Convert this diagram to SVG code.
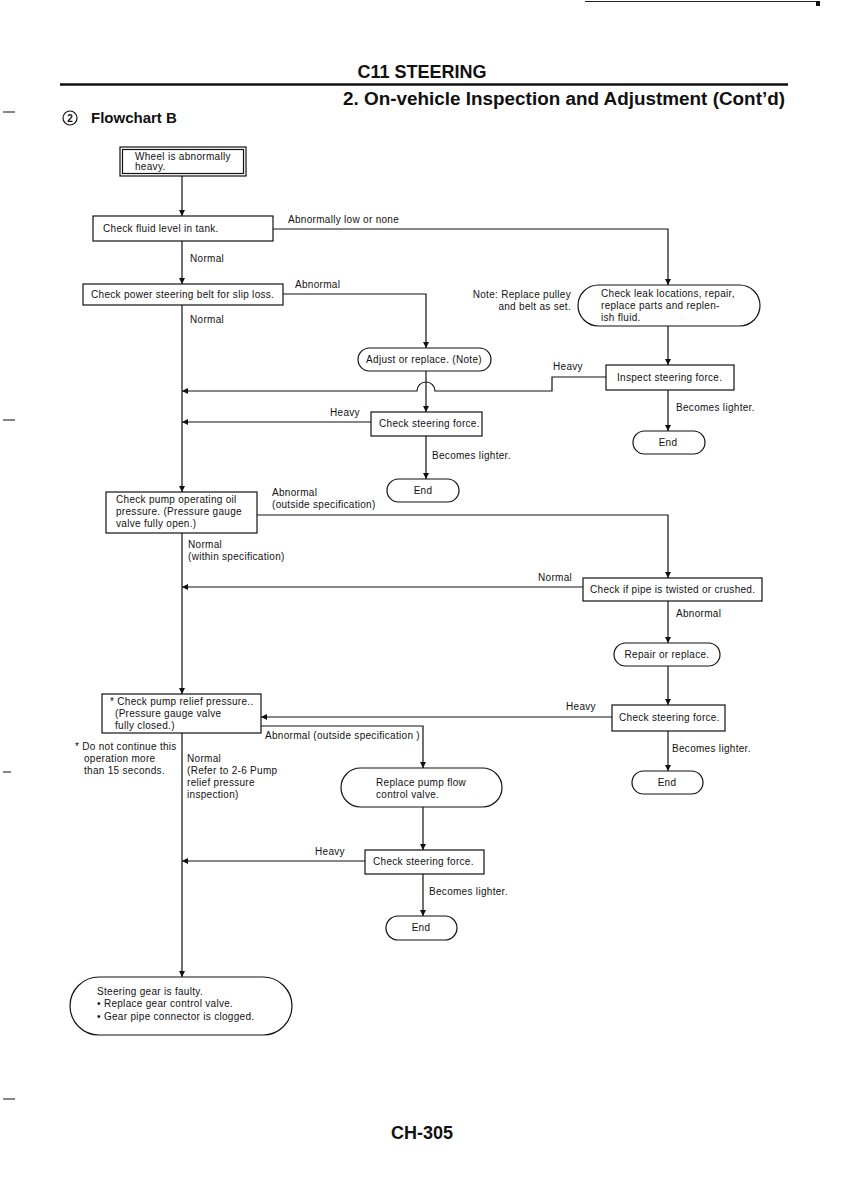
<svg xmlns="http://www.w3.org/2000/svg" width="848" height="1200" viewBox="0 0 848 1200">
<defs>
<marker id="arr" markerUnits="userSpaceOnUse" markerWidth="6" markerHeight="6" refX="6" refY="3" orient="auto">
<path d="M0,0 L6,3 L0,6 z" fill="#111"/>
</marker>
<style>
text{font-family:"Liberation Sans",Arial,sans-serif;fill:#111}
.t{font-size:10px;letter-spacing:0.3px}
.c{text-anchor:middle}
.r{text-anchor:end}
.box{fill:#fff;stroke:#111;stroke-width:1.2}
.ln{fill:none;stroke:#111;stroke-width:1.2}
.la{fill:none;stroke:#111;stroke-width:1.2;marker-end:url(#arr)}
.hd{font-weight:bold;letter-spacing:0}
</style>
</defs>
<rect width="848" height="1200" fill="#fff"/>
<g id="header">
<line x1="585" y1="1.5" x2="818" y2="1.5" stroke="#222" stroke-width="1"/>
<rect x="816" y="1" width="4" height="5" fill="#111"/>
<text x="422" y="78" class="hd c" font-size="18">C11 STEERING</text>
<line x1="60" y1="84.5" x2="788" y2="84.5" stroke="#111" stroke-width="2.5"/>
<text x="785" y="105" class="hd r" font-size="18" textLength="442" lengthAdjust="spacingAndGlyphs">2. On-vehicle Inspection and Adjustment (Cont’d)</text>
<circle cx="70" cy="118" r="7" fill="none" stroke="#111" stroke-width="1.2"/>
<text x="70" y="122" class="hd c" font-size="10">2</text>
<text x="91" y="123" class="hd" font-size="15">Flowchart B</text>
<text x="422" y="1139" class="hd c" font-size="18">CH-305</text>
<g stroke="#333" stroke-width="1.2">
<line x1="3" y1="112" x2="15" y2="112"/>
<line x1="3" y1="420" x2="15" y2="420"/>
<line x1="3" y1="772" x2="11" y2="772"/>
<line x1="3" y1="1099" x2="15" y2="1099"/>
</g>
</g>

<g id="connectors">
<line class="la" x1="182" y1="176" x2="182" y2="216"/>
<line class="la" x1="182" y1="241" x2="182" y2="284"/>
<line class="la" x1="182" y1="305" x2="182" y2="492"/>
<line class="la" x1="182" y1="533" x2="182" y2="694"/>
<line class="la" x1="182" y1="733" x2="182" y2="977"/>
<polyline class="la" points="273,229 668,229 668,285"/>
<polyline class="la" points="283,294 426,294 426,348"/>
<line class="la" x1="668" y1="326" x2="668" y2="365"/>
<path class="la" d="M606,377 L552,377 L552,391 L435,391 A9,9 0 0 0 417,391 L182,391"/>
<line class="la" x1="668" y1="390" x2="668" y2="431"/>
<line class="la" x1="426" y1="371" x2="426" y2="412"/>
<line class="la" x1="371" y1="422" x2="182" y2="422"/>
<line class="la" x1="426" y1="436" x2="426" y2="479"/>
<polyline class="la" points="257,515 668,515 668,578"/>
<line class="la" x1="583" y1="587" x2="182" y2="587"/>
<line class="la" x1="668" y1="601" x2="668" y2="643"/>
<line class="la" x1="668" y1="666" x2="668" y2="705"/>
<line class="la" x1="612" y1="717" x2="261" y2="717"/>
<line class="la" x1="668" y1="731" x2="668" y2="771"/>
<polyline class="la" points="261,726 423,726 423,768"/>
<line class="la" x1="423" y1="807" x2="423" y2="850"/>
<line class="la" x1="365" y1="861" x2="182" y2="861"/>
<line class="la" x1="423" y1="874" x2="423" y2="916"/>
</g>

<g id="labels" class="t">
<text x="288" y="223">Abnormally low or none</text>
<text x="190" y="262">Normal</text>
<text x="295" y="288">Abnormal</text>
<text x="190" y="323">Normal</text>
<text x="571" y="298" class="r">Note: Replace pulley</text>
<text x="571" y="310" class="r">and belt as set.</text>
<text x="553" y="370">Heavy</text>
<text x="676" y="411">Becomes lighter.</text>
<text x="330" y="416">Heavy</text>
<text x="432" y="459">Becomes lighter.</text>
<text x="272" y="496">Abnormal</text>
<text x="272" y="508">(outside specification)</text>
<text x="188" y="548">Normal</text>
<text x="188" y="560">(within specification)</text>
<text x="538" y="581">Normal</text>
<text x="676" y="617">Abnormal</text>
<text x="566" y="710">Heavy</text>
<text x="672" y="752">Becomes lighter.</text>
<text x="265" y="739">Abnormal (outside specification )</text>
<text x="75" y="750">* Do not continue this</text>
<text x="84" y="762">operation more</text>
<text x="84" y="774">than 15 seconds.</text>
<text x="187" y="762">Normal</text>
<text x="187" y="774">(Refer to 2-6 Pump</text>
<text x="187" y="786">relief pressure</text>
<text x="187" y="798">inspection)</text>
<text x="315" y="855">Heavy</text>
<text x="429" y="895">Becomes lighter.</text>
</g>

<g id="n-start" class="t">
<rect class="box" x="120" y="147" width="126" height="29"/>
<rect class="box" x="122.5" y="149.5" width="121" height="24" stroke-width="0.8"/>
<text x="135" y="160">Wheel is abnormally</text>
<text x="135" y="170">heavy.</text>
</g>
<g id="n-fluid" class="t">
<rect class="box" x="93" y="216" width="180" height="25"/>
<text x="103" y="232">Check fluid level in tank.</text>
</g>
<g id="n-belt" class="t">
<rect class="box" x="83" y="284" width="200" height="21"/>
<text x="91" y="298">Check power steering belt for slip loss.</text>
</g>
<g id="n-leak" class="t">
<rect class="box" x="578" y="285" width="182" height="41" rx="20.5"/>
<text x="601" y="297">Check leak locations, repair,</text>
<text x="601" y="309">replace parts and replen-</text>
<text x="601" y="321">ish fluid.</text>
</g>
<g id="n-adjust" class="t">
<rect class="box" x="358" y="348" width="133" height="23" rx="11.5"/>
<text x="424" y="363" class="c">Adjust or replace. (Note)</text>
</g>
<g id="n-inspect" class="t">
<rect class="box" x="606" y="365" width="128" height="25"/>
<text x="617" y="381">Inspect steering force.</text>
</g>
<g id="n-end1" class="t">
<rect class="box" x="633" y="431" width="72" height="23" rx="11.5"/>
<text x="668" y="446" class="c">End</text>
</g>
<g id="n-check1" class="t">
<rect class="box" x="371" y="412" width="111" height="24"/>
<text x="379" y="427">Check steering force.</text>
</g>
<g id="n-end2" class="t">
<rect class="box" x="387" y="479" width="72" height="23" rx="11.5"/>
<text x="423" y="494" class="c">End</text>
</g>
<g id="n-pumpoil" class="t">
<rect class="box" x="106" y="492" width="151" height="41"/>
<text x="116" y="503">Check pump operating oil</text>
<text x="116" y="515">pressure. (Pressure gauge</text>
<text x="116" y="527">valve fully open.)</text>
</g>
<g id="n-pipe" class="t">
<rect class="box" x="583" y="578" width="179" height="23"/>
<text x="590" y="593">Check if pipe is twisted or crushed.</text>
</g>
<g id="n-repair" class="t">
<rect class="box" x="614" y="643" width="106" height="23" rx="11.5"/>
<text x="667" y="658" class="c">Repair or replace.</text>
</g>
<g id="n-check2" class="t">
<rect class="box" x="612" y="705" width="113" height="26"/>
<text x="619" y="721">Check steering force.</text>
</g>
<g id="n-end3" class="t">
<rect class="box" x="632" y="771" width="71" height="23" rx="11.5"/>
<text x="667" y="786" class="c">End</text>
</g>
<g id="n-relief" class="t">
<rect class="box" x="102" y="694" width="159" height="39"/>
<text x="110" y="705">* Check pump relief pressure..</text>
<text x="115" y="717">(Pressure gauge valve</text>
<text x="115" y="729">fully closed.)</text>
</g>
<g id="n-flowvalve" class="t">
<rect class="box" x="341" y="768" width="161" height="39" rx="19.5"/>
<text x="376" y="786">Replace pump flow</text>
<text x="376" y="798">control valve.</text>
</g>
<g id="n-check3" class="t">
<rect class="box" x="365" y="850" width="119" height="24"/>
<text x="373" y="865">Check steering force.</text>
</g>
<g id="n-end4" class="t">
<rect class="box" x="386" y="916" width="71" height="24" rx="12"/>
<text x="421" y="931" class="c">End</text>
</g>
<g id="n-gear" class="t">
<rect class="box" x="70" y="977" width="222" height="58" rx="29"/>
<text x="97" y="995">Steering gear is faulty.</text>
<text x="97" y="1007">• Replace gear control valve.</text>
<text x="97" y="1020">• Gear pipe connector is clogged.</text>
</g>
</svg>
